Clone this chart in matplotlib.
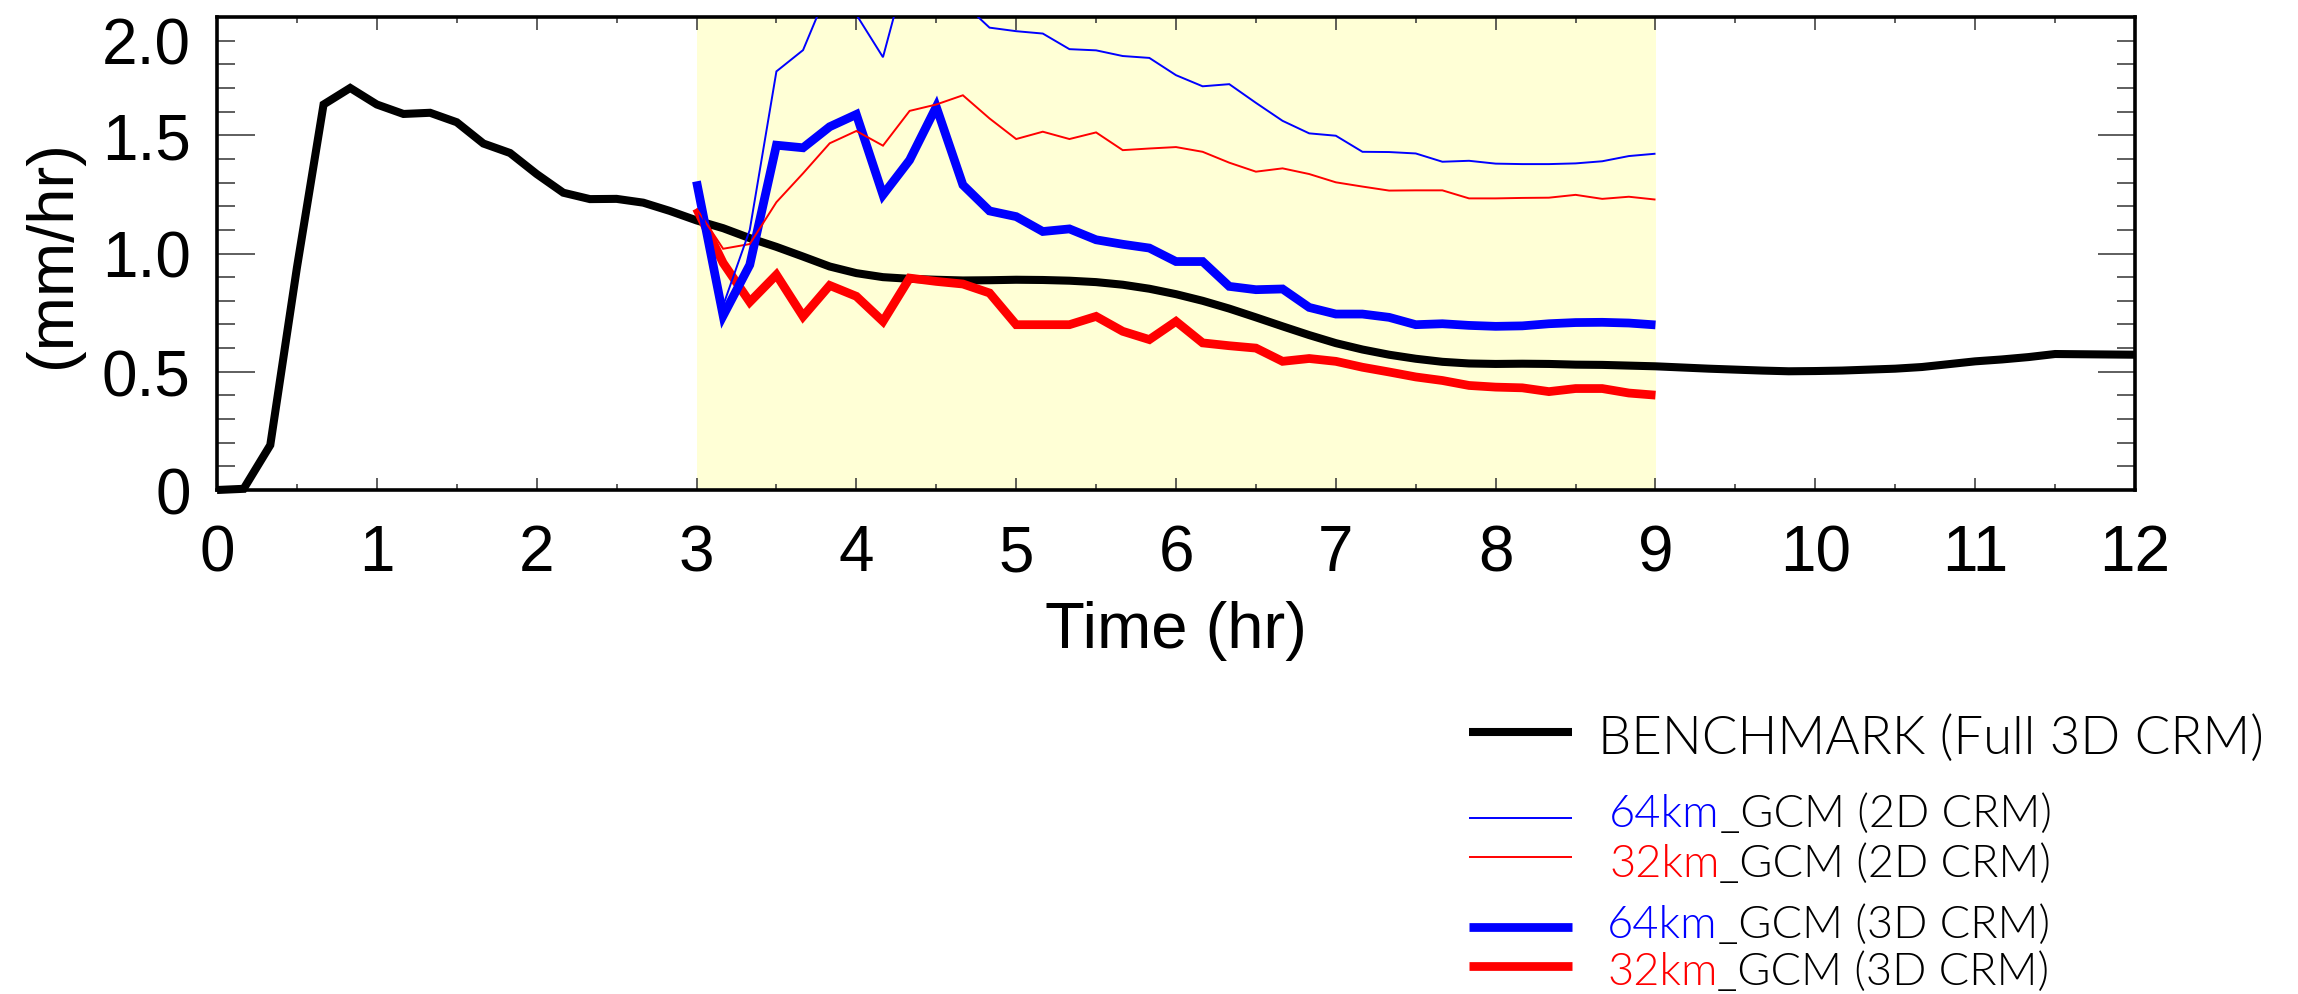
import matplotlib
matplotlib.use("Agg")
import matplotlib.pyplot as plt
import numpy as np
from matplotlib.lines import Line2D

# ---------------- DATA ----------------

# benchmark sampled every 10 min from 0 to 12 hr
bench_time = np.arange(73) / 6.0
bench = [
    0.0, 0.005, 0.19, 0.94, 1.63, 1.70,
    1.63, 1.59, 1.595, 1.555, 1.465, 1.425,
    1.336, 1.257, 1.23, 1.231, 1.215, 1.18,
    1.14, 1.107, 1.065, 1.028, 0.987, 0.945,
    0.917, 0.90, 0.893, 0.889, 0.886, 0.887,
    0.889, 0.888, 0.885, 0.879, 0.868, 0.851,
    0.828, 0.80, 0.767, 0.73, 0.692, 0.655,
    0.621, 0.594, 0.572, 0.555, 0.542, 0.535,
    0.533, 0.534, 0.533, 0.53, 0.529, 0.526,
    0.523, 0.518, 0.513, 0.509, 0.505, 0.502,
    0.503, 0.505, 0.509, 0.513, 0.52, 0.532,
    0.544, 0.552, 0.562, 0.575, 0.574, 0.573,
    0.572,
]

# GCM runs from 3 to 9 hr, every 10 min
gcm_time = 3.0 + np.arange(37) / 6.0
gcm64_2d = [
    1.28, 0.78, 1.10, 1.77, 1.86, 2.13,
    2.01, 1.83, 2.25, 2.15, 2.06, 1.955,
    1.94, 1.93, 1.864, 1.859, 1.835, 1.827,
    1.754, 1.707, 1.716, 1.637, 1.561, 1.508,
    1.498, 1.43, 1.429, 1.423, 1.388, 1.392,
    1.38, 1.378, 1.378, 1.381, 1.39, 1.412,
    1.422,
]
gcm32_2d = [
    1.19, 1.02, 1.04, 1.217, 1.339, 1.466,
    1.518, 1.456, 1.603, 1.63, 1.669, 1.571,
    1.484, 1.515, 1.484, 1.512, 1.437, 1.444,
    1.45, 1.43, 1.384, 1.346, 1.36, 1.336,
    1.301, 1.283, 1.266, 1.267, 1.267, 1.233,
    1.233, 1.235, 1.236, 1.248, 1.231, 1.24,
    1.228,
]
gcm64_3d = [
    1.305, 0.737, 0.952, 1.458, 1.447, 1.536,
    1.588, 1.248, 1.395, 1.62, 1.29, 1.18,
    1.156, 1.093, 1.104, 1.058, 1.039, 1.023,
    0.966, 0.966, 0.861, 0.847, 0.85, 0.772,
    0.744, 0.744, 0.73, 0.699, 0.703, 0.696,
    0.692, 0.694, 0.703, 0.708, 0.709, 0.706,
    0.698,
]
gcm32_3d = [
    1.19, 0.96, 0.795, 0.91, 0.734, 0.865,
    0.819, 0.713, 0.896, 0.882, 0.871, 0.833,
    0.699, 0.699, 0.699, 0.734, 0.671, 0.636,
    0.713, 0.622, 0.61, 0.60, 0.544, 0.556,
    0.544, 0.519, 0.499, 0.478, 0.463, 0.442,
    0.435, 0.432, 0.416, 0.429, 0.429, 0.41,
    0.401,
]

shade_span = (3, 9)
y_ticks = [0, 0.5, 1.0, 1.5, 2.0]
y_tick_labels = ["0", "0.5", "1.0", "1.5", "2.0"]

# ---------------- FIGURE ----------------

tick_font = ["Liberation Sans", "DejaVu Sans"]
leg_font = ["Lato", "DejaVu Sans"]

fig = plt.figure(figsize=(22.98, 9.95), dpi=100)
ax = fig.add_axes([217 / 2298, 1 - 491 / 995, 1918 / 2298, 473 / 995])

ax.axvspan(*shade_span, color="#ffffd6", zorder=0, lw=0)

thick = 6.3
thin = 1.4
line_kw = dict(solid_joinstyle="miter", solid_capstyle="butt")

ax.plot(bench_time, bench, color="black", lw=5.8, clip_on=False, zorder=3, **line_kw)
ax.plot(gcm_time, gcm32_3d, color="red", lw=thick, zorder=4, **line_kw)
ax.plot(gcm_time, gcm64_3d, color="blue", lw=thick, zorder=5, **line_kw)
ax.plot(gcm_time, gcm32_2d, color="red", lw=thin, zorder=6, **line_kw)
ax.plot(gcm_time, gcm64_2d, color="blue", lw=thin, zorder=7, **line_kw)

ax.set_xlim(0, 12)
ax.set_ylim(0, 2)
ax.set_xticks(range(13))
ax.set_xticks(np.arange(0.5, 12, 1), minor=True)
ax.set_yticks(y_ticks)
ax.set_yticklabels(y_tick_labels)
ax.set_yticks(np.arange(0.1, 2.0, 0.1), minor=True)

ax.tick_params(which="both", direction="in", top=True, right=True,
               color="#333333", width=1.1)
ax.tick_params(axis="x", which="major", length=9, pad=24)
ax.tick_params(axis="x", which="minor", length=4.5)
ax.tick_params(axis="y", which="major", length=27, pad=19)
ax.tick_params(axis="y", which="minor", length=13)

for lab in ax.get_xticklabels() + ax.get_yticklabels():
    lab.set_fontsize(46)
    lab.set_family(tick_font)
# top label pushed down so it stays inside the figure
ax.get_yticklabels()[-1].set_verticalalignment("top")

for s in ax.spines.values():
    s.set_linewidth(2.6)

ax.set_xlabel("Time (hr)", fontsize=47, family=tick_font)
ax.set_ylabel("(mm/hr)", fontsize=47, family=tick_font)
ax.xaxis.set_label_coords(0.5, -0.232)
ax.yaxis.set_label_coords(-0.07, 0.5)

# ---------------- LEGEND (drawn by hand) ----------------

renderer = fig.canvas.get_renderer()
inv = fig.transFigure.inverted()


def coloured_text(x, y, parts, size):
    for txt, col in parts:
        t = fig.text(x, y, txt, color=col, fontsize=size, family=leg_font,
                     weight=300, va="baseline", ha="left")
        bb = t.get_window_extent(renderer=renderer)
        x = inv.transform((bb.x1, 0))[0]


lx0, lx1 = 1469 / 2298, 1572 / 2298
rows = [
    # line y, baseline y, colour, width, text parts, size, text x
    (0.2633, 0.2420, "black", 5.8, [("BENCHMARK (Full 3D CRM)", "black")], 38, 1598),
    (0.1769, 0.1688, "blue", thin, [("64km", "blue"), ("_GCM (2D CRM)", "black")], 32.5, 1609),
    (0.1377, 0.1186, "red", thin, [("32km", "red"), ("_GCM (2D CRM)", "black")], 32.5, 1609),
    (0.0673, 0.0573, "blue", thick, [("64km", "blue"), ("_GCM (3D CRM)", "black")], 32.5, 1607),
    (0.0281, 0.0101, "red", thick, [("32km", "red"), ("_GCM (3D CRM)", "black")], 32.5, 1607),
]
for ly, by, col, lw, parts, size, tx in rows:
    fig.add_artist(Line2D([lx0, lx1], [ly, ly], color=col, lw=lw,
                          solid_capstyle="butt", transform=fig.transFigure))
    coloured_text(tx / 2298, by, parts, size)

fig.savefig("out.png", dpi=100)
